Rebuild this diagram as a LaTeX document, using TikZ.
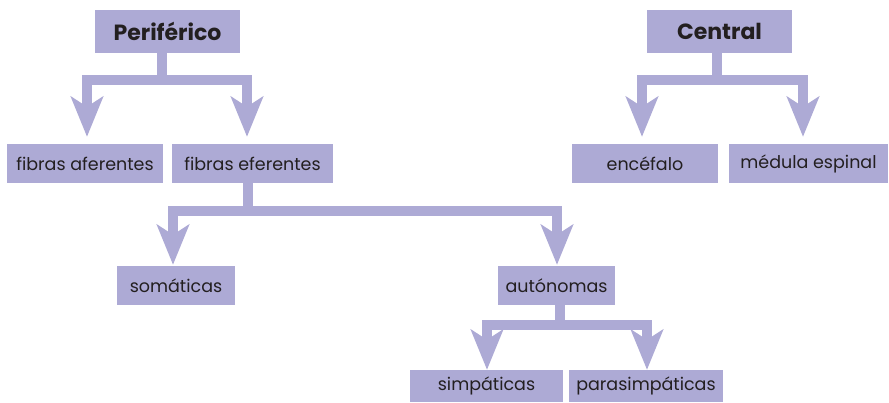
\documentclass[tikz,border=0pt]{standalone}
\usepackage{fontspec}
\setmainfont{Poppins}
\usetikzlibrary{arrows.meta}
\definecolor{boxfill}{RGB}{173,170,213}
\definecolor{ink}{RGB}{35,31,32}
\begin{document}
\begin{tikzpicture}[x=1pt,y=1pt,
  box/.style={rectangle, fill=boxfill, inner sep=0pt, text=ink, font=\fontsize{17.5}{20}\selectfont, minimum height=39pt},
  topbox/.style={box, font=\fontsize{22}{26}\selectfont\bfseries, minimum width=145pt, minimum height=43pt},
  conn/.style={draw=boxfill, line width=10pt, line join=miter, -{Stealth[length=40pt,width=32pt,inset=10pt]}}
]
\useasboundingbox (0,0) rectangle (889,-402);
\node[topbox] (per) at (167.5,-31.5) {Periférico};
\node[topbox] (cen) at (719.5,-31.5) {Central};
\node[box, minimum width=156pt] (fa) at (85,-163.5) {fibras aferentes};
\node[box, minimum width=161pt] (fe) at (252.5,-163.5) {fibras eferentes};
\node[box, minimum width=146pt] (enc) at (645,-163.5) {encéfalo};
\node[box, minimum width=159pt] (med) at (808.5,-163.5) {médula espinal};
\node[box, minimum width=118pt] (som) at (176,-285.5) {somáticas};
\node[box, minimum width=117pt] (aut) at (556.5,-285.5) {autónomas};
\node[box, minimum width=153pt, minimum height=32pt] (sim) at (486.5,-386) {simpáticas};
\node[box, minimum width=154pt, minimum height=32pt] (par) at (646,-386) {parasimpáticas};
% connectors
\draw[conn, shorten >=7pt] ([xshift=-5.5pt]per.south) -- ++(0,-27) -| ([xshift=2pt]fa.north);
\draw[conn, shorten >=7pt] ([xshift=-5.5pt]per.south) -- ++(0,-27) -| ([xshift=-5.5pt]fe.north);
\draw[conn, shorten >=7pt] ([xshift=-2.5pt]cen.south) -- ++(0,-27) -| ([xshift=-3pt]enc.north);
\draw[conn, shorten >=7pt] ([xshift=-2.5pt]cen.south) -- ++(0,-27) -| ([xshift=-5.5pt]med.north);
\draw[conn, shorten >=1pt] ([xshift=-4.5pt]fe.south) -- ++(0,-28) -| ([xshift=-3pt]som.north);
\draw[conn, shorten >=1pt] ([xshift=-4.5pt]fe.south) -- ++(0,-28) -| ([xshift=0.5pt]aut.north);
\draw[conn] ([xshift=3.5pt]aut.south) -- ++(0,-20) -| ([xshift=0.5pt]sim.north);
\draw[conn] ([xshift=3.5pt]aut.south) -- ++(0,-20) -| ([xshift=1pt]par.north);
\end{tikzpicture}
\end{document}
